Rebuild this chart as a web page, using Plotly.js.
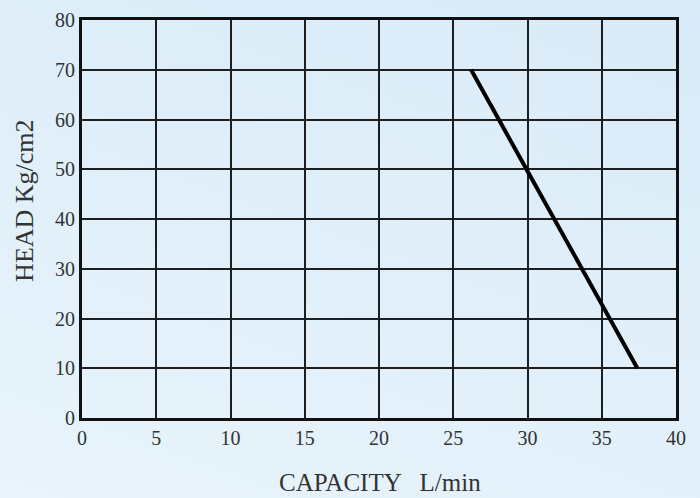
<!DOCTYPE html>
<html>
<head>
<meta charset="utf-8">
<script src="https://cdn.plot.ly/plotly-3.0.1.min.js"></script>
<style>
html,body{margin:0;padding:0;}
#chart{width:700px;height:498px;background:linear-gradient(20deg,#e9f4fb 0%,#e0effa 50%,#d9ebf8 100%);}
</style>
</head>
<body>
<div id="chart"></div>
<script>
var capacity = [26.2, 37.4];
var head = [70, 10];
var xTicks = [0, 5, 10, 15, 20, 25, 30, 35, 40];
var yTicks = [0, 10, 20, 30, 40, 50, 60, 70, 80];
var xTitle = 'CAPACITY   L/min';
var yTitle = 'HEAD Kg/cm2';

var trace = {
  x: capacity,
  y: head,
  type: 'scatter',
  mode: 'lines',
  line: {color: '#000000', width: 4},
  hoverinfo: 'skip'
};

var serif = 'Liberation Serif, Times New Roman, serif';
var tickFont = {family: serif, size: 20, color: '#333333'};
var axisCommon = {
  showgrid: true,
  gridcolor: '#1e1e1e',
  gridwidth: 2,
  showline: true,
  mirror: true,
  linecolor: '#111111',
  linewidth: 3,
  zeroline: false,
  ticks: '',
  tickfont: tickFont,
  automargin: false
};
var layout = {
  width: 700,
  height: 498,
  margin: {l: 82, r: 24, t: 20, b: 80},
  paper_bgcolor: 'rgba(0,0,0,0)',
  plot_bgcolor: 'rgba(0,0,0,0)',
  showlegend: false,
  xaxis: Object.assign({range: [0, 40], tickvals: xTicks, ticktext: xTicks.map(String)}, axisCommon),
  yaxis: Object.assign({range: [0, 80], tickvals: yTicks, ticktext: yTicks.map(String)}, axisCommon),
  annotations: [
    {text: xTitle, xref: 'paper', yref: 'paper', x: 0.502, y: -0.163, xanchor: 'center', yanchor: 'middle',
     showarrow: false, font: {family: serif, size: 25, color: '#333333'}},
    {text: yTitle, xref: 'paper', yref: 'paper', x: -0.098, y: 0.545, xanchor: 'center', yanchor: 'middle',
     textangle: -90, showarrow: false, font: {family: serif, size: 26, color: '#333333'}}
  ]
};

Plotly.newPlot('chart', [trace], layout, {displayModeBar: false, staticPlot: true});
</script>
</body>
</html>
